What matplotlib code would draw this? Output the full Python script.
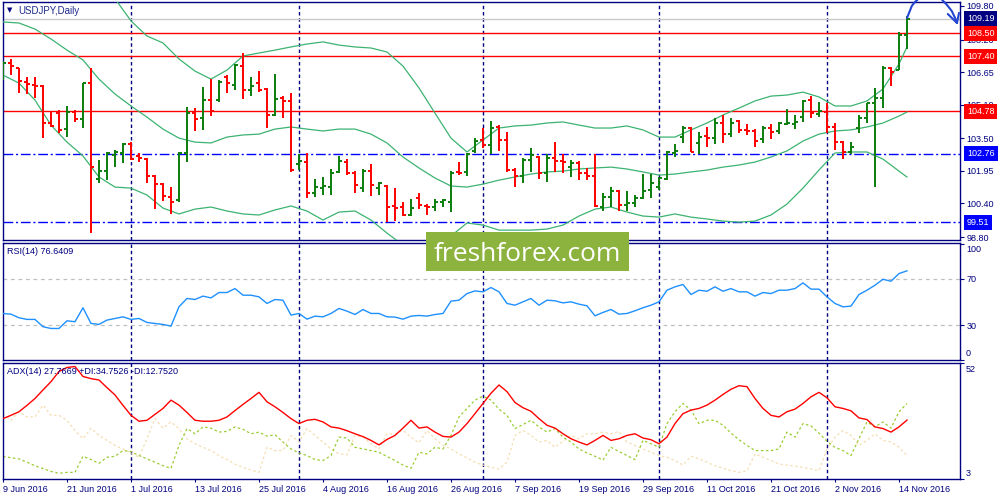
import numpy as np
import matplotlib.pyplot as plt
from matplotlib.patches import Rectangle
import matplotlib.transforms as mtransforms

plt.rcParams['font.family'] = ['Liberation Sans', 'DejaVu Sans']

# ---- data (USDJPY daily, 9 Jun 2016 .. 15 Nov 2016, one bar per weekday) ----
date_labels = ["9 Jun 2016", "21 Jun 2016", "1 Jul 2016", "13 Jul 2016", "25 Jul 2016",
               "4 Aug 2016", "16 Aug 2016", "26 Aug 2016", "7 Sep 2016", "19 Sep 2016",
               "29 Sep 2016", "11 Oct 2016", "21 Oct 2016", "2 Nov 2016", "14 Nov 2016"]
month_starts = [16, 37, 60, 82, 103]   # bars where a new month begins

opens = [106.75, 107.09, 106.85, 106.18, 106.04, 105.99, 104.23, 104.70, 103.94, 104.75,
         104.42, 106.13, 101.56, 101.94, 102.70, 102.80, 103.23, 102.66, 102.51, 101.70,
         101.32, 100.70, 100.56, 102.80, 104.70, 104.47, 105.32, 105.32, 106.42, 106.04,
         106.94, 105.80, 106.13, 105.85, 104.61, 105.42, 105.28, 102.28, 102.37, 100.90,
         101.13, 101.18, 101.90, 102.37, 101.85, 101.13, 101.94, 101.13, 101.23, 100.28,
         100.23, 99.85, 100.66, 100.28, 100.23, 100.47, 100.47, 101.90, 101.90, 102.90,
         103.42, 103.18, 104.04, 103.42, 101.99, 101.70, 102.47, 102.61, 101.85, 102.56,
         102.42, 102.13, 102.32, 101.85, 101.70, 100.23, 100.70, 100.99, 100.32, 100.42,
         100.66, 101.04, 101.18, 101.56, 102.80, 103.56, 103.99, 103.28, 103.61, 103.51,
         104.23, 103.70, 104.32, 103.90, 103.85, 103.47, 103.99, 103.85, 104.18, 104.18,
         104.51, 105.32, 104.66, 104.75, 104.04, 103.32, 102.85, 103.99, 104.47, 105.18,
         105.42, 106.85, 106.75, 108.42]
highs = [107.18, 107.28, 106.85, 106.42, 106.42, 106.04, 104.80, 104.85, 105.04, 104.85,
         106.13, 106.85, 102.47, 102.85, 102.94, 103.28, 103.32, 102.80, 102.56, 101.75,
         101.37, 101.18, 102.85, 104.99, 104.94, 105.94, 106.32, 106.28, 106.51, 107.04,
         107.56, 106.42, 106.70, 105.90, 106.56, 105.51, 105.66, 102.75, 102.80, 101.56,
         101.66, 102.04, 102.66, 102.51, 101.94, 102.04, 102.28, 101.42, 101.28, 101.13,
         100.47, 100.61, 100.90, 100.37, 100.61, 100.61, 101.94, 102.37, 102.80, 103.51,
         103.99, 104.32, 104.13, 103.80, 102.09, 102.56, 103.04, 102.66, 102.75, 103.32,
         102.75, 102.47, 102.42, 102.09, 102.75, 100.90, 101.18, 101.04, 100.99, 100.80,
         101.80, 101.80, 101.66, 102.90, 103.23, 104.09, 104.04, 103.80, 104.04, 104.47,
         104.61, 104.47, 104.37, 104.18, 103.94, 104.09, 104.18, 104.28, 104.90, 104.61,
         105.32, 105.51, 105.23, 105.18, 104.23, 103.37, 103.32, 104.61, 105.18, 105.90,
         106.94, 106.90, 108.56, 109.32]
lows = [106.28, 106.51, 105.66, 105.61, 105.42, 103.51, 104.04, 103.75, 103.56, 104.28,
        103.99, 98.99, 101.37, 101.51, 102.13, 102.32, 102.47, 102.37, 101.37, 100.13,
        100.51, 99.90, 100.47, 102.37, 103.85, 103.90, 104.56, 105.23, 105.66, 105.80,
        105.37, 105.51, 105.70, 103.99, 104.56, 104.47, 101.90, 101.99, 100.66, 100.70,
        100.80, 100.80, 101.85, 101.75, 100.90, 100.94, 100.75, 100.80, 99.51, 99.56,
        99.80, 99.80, 100.13, 99.85, 100.04, 100.23, 99.99, 101.75, 101.70, 102.80,
        103.04, 102.75, 102.90, 101.90, 101.18, 101.37, 101.90, 101.56, 101.42, 101.90,
        101.85, 101.66, 101.51, 101.51, 100.23, 100.04, 100.23, 100.04, 100.04, 100.23,
        100.61, 100.66, 101.04, 101.51, 102.61, 103.28, 102.85, 102.75, 103.09, 103.23,
        103.28, 103.56, 103.75, 103.66, 103.09, 103.28, 103.47, 103.70, 104.13, 103.94,
        104.28, 104.47, 104.51, 103.75, 102.94, 102.51, 102.75, 103.75, 104.23, 101.18,
        104.94, 105.99, 106.75, 107.75]
closes = [107.09, 106.94, 106.23, 106.09, 105.99, 104.23, 104.09, 103.90, 104.75, 104.42,
          106.13, 102.13, 101.94, 102.80, 102.85, 103.23, 102.51, 102.56, 101.70, 101.32,
          100.75, 100.47, 102.80, 104.70, 104.42, 105.32, 104.80, 106.18, 106.13, 106.99,
          105.80, 105.99, 105.80, 104.61, 105.37, 105.28, 101.99, 102.42, 100.90, 101.18,
          101.23, 101.85, 102.42, 101.85, 101.28, 101.94, 101.28, 101.37, 100.23, 100.18,
          99.85, 100.18, 100.32, 100.23, 100.47, 100.56, 101.85, 101.85, 102.75, 103.37,
          103.18, 103.99, 103.42, 101.99, 101.70, 102.47, 102.70, 101.85, 102.56, 102.42,
          102.37, 102.32, 101.85, 101.70, 100.28, 100.70, 100.99, 100.32, 100.42, 100.66,
          100.99, 101.37, 101.61, 102.85, 102.90, 103.99, 102.85, 103.56, 103.51, 104.23,
          103.70, 104.23, 103.90, 103.85, 103.37, 103.99, 103.80, 104.23, 104.23, 104.28,
          105.28, 104.70, 104.80, 104.04, 103.32, 102.85, 103.09, 104.47, 105.18, 105.42,
          106.85, 106.66, 108.42, 109.19]

# Bollinger bands (20, 2) read every second bar
bb_idx = list(range(0, 113, 2)) + [113]
bb_upper = [111.56, 111.85, 112.09, 112.42, 112.09, 111.75, 111.04, 110.15, 109.09, 108.37,
            108.04, 107.28, 106.70, 106.32, 106.75, 107.42, 107.56, 107.70, 107.85, 107.99,
            108.09, 107.94, 107.85, 107.80, 107.61, 106.94, 105.90, 104.70, 103.51, 102.85,
            103.42, 103.99, 104.09, 104.13, 104.23, 104.28, 104.13, 103.99, 103.99, 104.09,
            103.90, 103.56, 103.56, 103.90, 104.23, 104.61, 104.94, 105.28, 105.51, 105.56,
            105.70, 105.47, 105.04, 105.04, 105.28, 105.85, 107.04, 107.85]
bb_mid = [109.04, 108.99, 108.70, 108.23, 107.70, 107.23, 106.32, 105.61, 105.04, 104.51,
          103.94, 103.51, 103.32, 103.28, 103.56, 103.66, 103.70, 103.94, 104.04, 103.94,
          103.85, 103.94, 103.94, 103.70, 103.28, 102.61, 102.09, 101.61, 101.23, 101.18,
          101.32, 101.51, 101.66, 101.80, 101.90, 101.94, 102.04, 102.09, 102.13, 102.04,
          101.90, 101.75, 101.80, 101.90, 101.99, 102.13, 102.23, 102.37, 102.61, 102.90,
          103.37, 103.70, 103.85, 103.90, 104.04, 104.23, 104.56, 104.75]
bb_lower = [106.51, 106.13, 105.32, 104.13, 103.32, 102.66, 101.66, 101.18, 101.13, 100.80,
            100.18, 99.90, 100.13, 100.23, 100.04, 99.90, 99.85, 100.09, 100.28, 100.04,
            99.61, 99.99, 100.04, 99.61, 98.99, 98.42, 98.09, 98.18, 98.85, 99.47,
            99.37, 99.13, 99.13, 99.13, 99.18, 99.37, 99.80, 100.13, 100.23, 99.99,
            99.80, 99.75, 99.90, 99.75, 99.66, 99.56, 99.51, 99.56, 99.85, 100.37,
            101.13, 101.99, 102.80, 102.85, 102.85, 102.51, 101.94, 101.66]

rsi = [40.0, 39.4, 36.3, 34.9, 34.9, 28.6, 27.1, 27.1, 33.7, 32.9,
       44.9, 31.4, 30.6, 34.3, 35.7, 37.1, 34.9, 35.7, 32.3, 31.4,
       30.6, 29.1, 45.7, 52.9, 52.0, 54.9, 53.4, 58.0, 58.0, 61.4,
       55.7, 55.7, 54.3, 48.6, 52.0, 51.4, 38.6, 40.0, 35.1, 37.7,
       37.1, 40.0, 44.3, 42.0, 39.1, 43.4, 40.0, 40.0, 37.1, 36.9,
       35.1, 37.7, 38.3, 37.7, 39.1, 40.0, 50.6, 51.4, 57.1, 59.4,
       58.6, 62.3, 58.6, 48.6, 47.1, 50.0, 52.9, 47.1, 51.4, 50.9,
       49.1, 50.0, 48.0, 46.6, 38.0, 40.9, 43.4, 39.4, 40.0, 42.3,
       44.9, 47.1, 50.0, 60.0, 62.9, 64.9, 56.3, 60.0, 59.1, 62.9,
       59.1, 61.4, 58.6, 58.6, 54.9, 58.0, 57.1, 60.0, 60.0, 61.4,
       66.3, 60.9, 60.9, 54.3, 48.6, 45.7, 46.3, 56.3, 60.0, 64.3,
       69.4, 67.7, 74.3, 76.64]

adx = [28.4, 29.8, 31.3, 34.0, 36.9, 40.5, 44.0, 48.3, 50.0, 50.4,
       46.2, 45.3, 44.7, 41.5, 38.4, 34.0, 29.8, 27.3, 27.7, 30.2,
       32.7, 36.2, 34.1, 31.0, 27.7, 27.3, 27.3, 27.7, 29.1, 31.8,
       34.4, 36.9, 39.5, 35.5, 33.4, 31.0, 28.4, 26.3, 27.7, 28.1,
       27.0, 24.9, 24.4, 23.3, 22.0, 20.8, 19.2, 17.3, 19.6, 21.3,
       24.4, 27.7, 24.4, 24.9, 22.7, 20.9, 20.6, 22.7, 26.3, 30.5,
       34.8, 39.1, 42.6, 39.8, 35.2, 33.0, 31.5, 28.4, 25.6, 24.4,
       22.0, 19.9, 18.5, 17.3, 19.2, 21.3, 19.2, 19.9, 21.3, 22.0,
       20.2, 19.5, 17.8, 20.6, 26.3, 30.5, 32.0, 32.7, 34.1, 36.2,
       38.6, 40.8, 42.3, 41.9, 36.9, 32.7, 29.8, 29.1, 31.3, 32.4,
       34.8, 37.6, 39.5, 37.2, 33.4, 32.7, 31.7, 28.7, 28.0, 24.9,
       24.2, 22.7, 24.9, 27.77]
plus_di = [12.4, 11.9, 11.4, 10.0, 8.5, 7.3, 6.1, 5.3, 5.7, 5.7,
           12.5, 11.1, 9.5, 12.1, 12.5, 14.9, 14.5, 12.8, 11.4, 10.0,
           8.5, 7.4, 17.1, 24.2, 22.0, 24.9, 24.4, 22.7, 23.0, 24.9,
           23.9, 22.0, 22.7, 21.0, 21.6, 18.5, 15.6, 13.9, 12.8, 11.1,
           10.7, 12.8, 20.6, 20.2, 16.3, 15.6, 14.9, 14.2, 12.4, 10.7,
           8.8, 7.4, 14.2, 13.5, 16.3, 15.6, 21.3, 29.1, 32.7, 36.2,
           37.9, 36.2, 32.4, 29.8, 24.2, 25.9, 27.7, 24.9, 22.7, 24.2,
           20.6, 18.5, 15.6, 13.9, 12.5, 10.9, 16.3, 14.5, 12.8, 11.1,
           19.2, 17.8, 16.3, 26.3, 31.3, 34.8, 32.0, 26.3, 27.7, 27.7,
           25.6, 22.3, 19.5, 17.1, 14.9, 14.9, 14.9, 15.6, 22.7, 20.6,
           26.3, 25.3, 22.3, 18.8, 16.3, 14.9, 12.8, 19.9, 27.0, 24.9,
           27.0, 24.4, 31.3, 34.75]
minus_di = [30.5, 27.7, 31.3, 29.1, 29.1, 34.1, 29.8, 29.8, 27.7, 23.4,
            19.9, 24.4, 21.3, 19.2, 17.1, 15.6, 13.9, 12.1, 19.9, 28.4,
            24.4, 27.0, 24.2, 19.9, 17.8, 16.3, 14.9, 12.8, 11.1, 9.2,
            7.8, 6.7, 5.7, 16.3, 14.9, 14.9, 21.3, 18.5, 24.2, 21.3,
            18.5, 15.6, 13.5, 13.1, 21.3, 20.6, 17.8, 15.6, 22.0, 22.0,
            23.4, 20.6, 18.2, 23.4, 19.9, 17.1, 15.6, 13.5, 11.8, 10.0,
            8.8, 7.8, 7.1, 10.0, 21.3, 23.4, 21.3, 18.5, 19.2, 16.3,
            18.8, 21.3, 19.9, 22.0, 22.0, 22.7, 22.0, 23.0, 18.5, 17.1,
            15.6, 14.2, 12.8, 12.1, 10.7, 8.8, 12.5, 11.4, 10.0, 8.5,
            7.4, 6.4, 5.7, 6.4, 13.5, 12.1, 10.7, 9.2, 8.8, 8.3,
            7.8, 7.1, 6.4, 15.6, 20.6, 23.4, 21.3, 17.1, 19.2, 22.0,
            19.2, 18.5, 16.3, 12.75]

price_ticks = [109.80, 108.20, 106.65, 105.10, 103.50, 101.95, 100.40, 98.80]
resistance = [108.50, 107.40, 104.78]
support = [102.76, 99.51]
last_price = 109.19

# hand drawn arrow in the top right corner (bar index, price)
arrow_up_x = [113.0, 113.3, 113.6, 114.0, 114.3]
arrow_up_y = [109.23, 109.51, 109.80, 109.99, 110.09]
arrow_down_x = [117.4, 118.0, 118.6, 119.05, 119.25]
arrow_down_y = [110.09, 109.85, 109.56, 109.20, 108.99]
arrow_head_x = [118.1, 119.25, 119.5]
arrow_head_y = [109.42, 108.99, 109.47]

NAVY = '#000080'
GREEN_BAR = '#0A7D0A'
RED = '#FF0000'
BAND = '#3CB371'


def fx(px):
    return px / 1000.0


def fy(py):
    return 1 - py / 500.0


fig = plt.figure(figsize=(10, 5), dpi=100)
fig.patch.set_facecolor('white')

ax = fig.add_axes([fx(2.5), fy(240), 0.958, 238 / 500])
ax_rsi = fig.add_axes([fx(2.5), fy(360), 0.958, 117.5 / 500])
ax_adx = fig.add_axes([fx(2.5), fy(479), 0.958, 116.5 / 500])

n = len(closes)
idx = np.arange(n)
o = np.array(opens)
h = np.array(highs)
l = np.array(lows)
c = np.array(closes)
cols = np.where(c >= o, GREEN_BAR, RED)

for a in (ax, ax_rsi, ax_adx):
    a.set_xlim(-0.06, 119.69)
    for s in a.spines.values():
        s.set_color(NAVY)
        s.set_linewidth(1.0)
    for m in month_starts:
        a.axvline(m, color=NAVY, lw=1.0, ls=(0, (2.5, 2)), zorder=1)

# ---- main price panel ----
ax.set_ylim(98.66, 109.99)
ax.axhline(last_price, color='#C8C8C8', lw=1.0, zorder=1)
for lv in resistance:
    ax.axhline(lv, color=RED, lw=1.0, zorder=2)
for lv in support:
    ax.axhline(lv, color='#0000FF', lw=1.0, ls=(0, (7, 2, 1.5, 2)), zorder=2)

ax.plot(bb_idx, bb_upper, color=BAND, lw=0.9, zorder=3)
ax.plot(bb_idx, bb_mid, color=BAND, lw=0.9, zorder=3)
ax.plot(bb_idx, bb_lower, color=BAND, lw=0.9, zorder=3)

ax.vlines(idx, l, h, colors=cols, lw=1.4, zorder=4)
ax.hlines(o, idx - 0.42, idx, colors=cols, lw=1.4, zorder=4)
ax.hlines(c, idx, idx + 0.42, colors=cols, lw=1.4, zorder=4)

ax.set_xticks([])
ax.yaxis.tick_right()
ax.set_yticks(price_ticks)
ax.set_yticklabels(['%.2f' % p for p in price_ticks])
ax.tick_params(axis='y', colors=NAVY, labelsize=6.5, length=3, width=0.8, pad=1.5)

trans = mtransforms.blended_transform_factory(ax.transAxes, ax.transData)
boxes = [(last_price, NAVY)] + [(lv, RED) for lv in resistance] + [(lv, '#0000FF') for lv in support]
for lv, bg in boxes:
    ax.text(1.0068, lv, '%.2f' % lv, transform=trans, ha='left', va='center', fontsize=6.5,
            color='white', zorder=8, clip_on=False,
            bbox=dict(boxstyle='square,pad=0.32', fc=bg, ec='none'))

# arrow sketch
for xs, ys in ((arrow_up_x, arrow_up_y), (arrow_down_x, arrow_down_y),
               (arrow_head_x, arrow_head_y)):
    ax.plot(xs, ys, color='#2345D0', lw=1.5, clip_on=False, zorder=9,
            solid_capstyle='round', solid_joinstyle='round')

fig.text(fx(6.5), fy(10.5), '\u25bc', fontsize=5, color=NAVY, va='center',
         family='DejaVu Sans')
fig.text(fx(18), fy(10.5), 'USDJPY,Daily', fontsize=7, color='#1F2A8F', va='center')

# ---- RSI panel ----
ax_rsi.set_ylim(0, 101)
for lv in (70, 30):
    ax_rsi.axhline(lv, color='#C0C0C0', lw=0.9, ls=(0, (3, 3)), zorder=1)
ax_rsi.plot(idx, rsi, color='#1E90FF', lw=1.0, zorder=3)
ax_rsi.set_xticks([])
ax_rsi.yaxis.tick_right()
ax_rsi.set_yticks([100, 70, 30, 0])
ax_rsi.set_yticklabels(['', '70', '30', ''])
ax_rsi.tick_params(axis='y', colors=NAVY, labelsize=6.5, length=3, width=0.8, pad=1.5)
fig.text(fx(966), fy(249), '100', fontsize=6.5, color=NAVY, va='center')
fig.text(fx(966), fy(353), '0', fontsize=6.5, color=NAVY, va='center')
fig.text(fx(7), fy(251), 'RSI(14) 76.6409', fontsize=6.5, color=NAVY, va='center')

# ---- ADX panel ----
ax_adx.set_ylim(2.9, 52.1)
ax_adx.plot(idx, minus_di, color='#F5DEB3', lw=0.9, ls=(0, (2, 2)), zorder=2)
ax_adx.plot(idx, plus_di, color='#9ACD32', lw=0.9, ls=(0, (2, 2)), zorder=2)
ax_adx.plot(idx, adx, color=RED, lw=1.0, zorder=3)
ax_adx.yaxis.tick_right()
ax_adx.set_yticks([52, 3])
ax_adx.set_yticklabels(['', ''])
ax_adx.tick_params(axis='y', colors=NAVY, length=3, width=0.8)
fig.text(fx(966), fy(370), '52', fontsize=6.5, color=NAVY, va='center')
fig.text(fx(966), fy(473), '3', fontsize=6.5, color=NAVY, va='center')
fig.text(fx(7), fy(371), 'ADX(14) 27.7669 +DI:34.7526 -DI:12.7520', fontsize=6.5,
         color=NAVY, va='center')

ax_adx.set_xticks(range(0, 8 * len(date_labels), 8))
ax_adx.set_xticklabels(date_labels)
for t in ax_adx.get_xticklabels():
    t.set_ha('left')
ax_adx.tick_params(axis='x', colors=NAVY, labelsize=6.5, length=2, width=0.8, pad=2.5)

# ---- watermark ----
fig.add_artist(Rectangle((fx(426), fy(271)), 203 / 1000, 39 / 500, transform=fig.transFigure,
                         facecolor='#8DB33F', edgecolor='none', zorder=10))
fig.text(fx(527.5), fy(261), 'freshforex.com', fontsize=19, color='white', ha='center',
         va='baseline', family=['Open Sans', 'DejaVu Sans'], zorder=11)

fig.savefig('out.png', dpi=100)
